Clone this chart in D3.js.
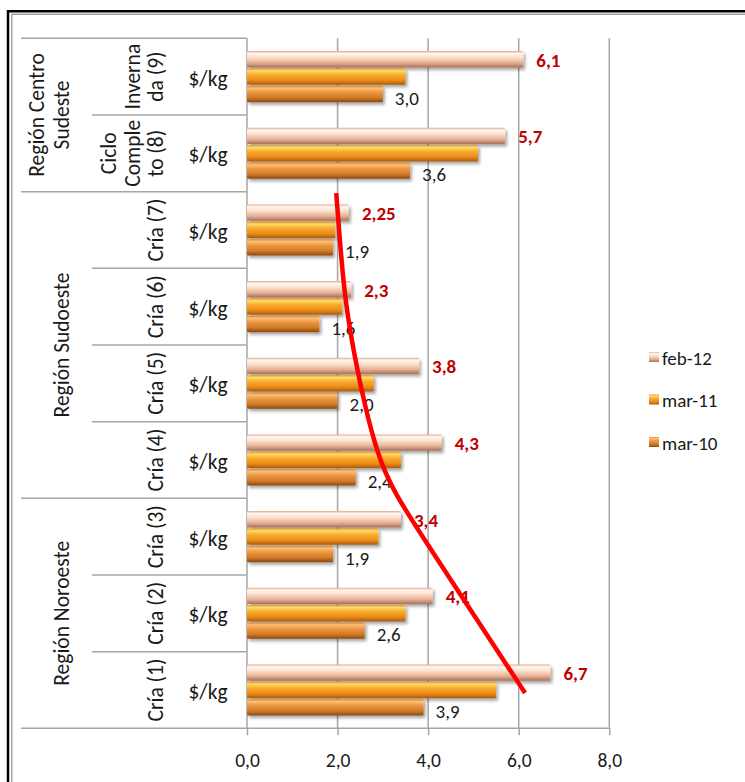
<!DOCTYPE html>
<html>
<head>
<meta charset="utf-8">
<script src="https://cdn.jsdelivr.net/npm/d3@7"></script>
<style>
  body { margin: 0; background: #fff; }
  svg { display: block; }
  text { font-family: Carlito, Lato, "Noto Sans", sans-serif; fill: #1a1a1a; }
</style>
</head>
<body>
<svg id="chart" width="745" height="782"></svg>
<script>
// Row labels, top to bottom ("\n" splits the lines of a wrapped label)
const rowLabels = ["Inverna\nda (9)", "Ciclo\nComple\nto (8)", "Cría (7)", "Cría (6)", "Cría (5)", "Cría (4)", "Cría (3)", "Cría (2)", "Cría (1)"];
const unitLabel = "$/kg";
// Regions grouping the rows, with how many rows each one spans
const regionNames = ["Región Centro\nSudeste", "Región Sudoeste", "Región Noroeste"];
const regionSpans = [2, 4, 3];

// Price series ($/kg), same order as the rows
const seriesNames = ["feb-12", "mar-11", "mar-10"];
const feb12 = [6.1, 5.7, 2.25, 2.3, 3.8, 4.3, 3.4, 4.1, 6.7];
const mar11 = [3.5, 5.1, 1.95, 2.1, 2.8, 3.4, 2.9, 3.5, 5.5];
const mar10 = [3.0, 3.6, 1.9, 1.6, 2.0, 2.4, 1.9, 2.6, 3.9];

const xTicks = [0, 2, 4, 6, 8];

// Hand-drawn trend stroke: price value and row position (in rows from the top)
const trendValue = [1.97, 2.05, 2.16, 2.39, 2.61, 2.87, 3.20, 4.11, 4.84, 5.52, 6.14];
const trendRow   = [2.02, 2.63, 3.41, 4.20, 4.81, 5.40, 5.89, 6.71, 7.37, 7.98, 8.54];

const svg = d3.select("#chart");
const W = 745, H = 782;

// layout
const plotLeft = 247, plotRight = 609.3, plotTop = 38.3, plotBottom = 728.3;
const tableLeft = 21, subLeft = 92;
const tableFont = "21.5px", valueFont = "19px";

const x = d3.scaleLinear().domain([0, 8]).range([plotLeft, plotRight]);
const rows = d3.range(rowLabels.length);
const y = d3.scaleBand().domain(rows).range([plotTop, plotBottom]).padding(0);
const bw = y.bandwidth();
const ySub = d3.scaleBand().domain(seriesNames).range([bw / 6, bw * 5 / 6]).paddingInner(0.06);
const yRow = d3.scaleLinear().domain([0, rowLabels.length]).range([plotTop, plotBottom]);

const seriesValues = { "feb-12": feb12, "mar-11": mar11, "mar-10": mar10 };

// gradients giving the bevelled bar look
const defs = svg.append("defs");
const gradStops = {
  "feb-12": [["0%", "#e2aa8c"], ["14%", "#fff6ee"], ["38%", "#fbe2d0"], ["72%", "#e6b092"], ["100%", "#a9705a"]],
  "mar-11": [["0%", "#e8921f"], ["14%", "#ffdc6a"], ["38%", "#f9ad30"], ["72%", "#ec8c16"], ["100%", "#a85a10"]],
  "mar-10": [["0%", "#d58236"], ["14%", "#ffbf72"], ["38%", "#ec9845"], ["72%", "#d27a26"], ["100%", "#8a4814"]]
};
seriesNames.forEach((s, i) => {
  const g = defs.append("linearGradient").attr("id", "g" + i)
    .attr("x1", 0).attr("y1", 0).attr("x2", 0).attr("y2", 1);
  gradStops[s].forEach(([o, c]) => g.append("stop").attr("offset", o).attr("stop-color", c));
});
const f = defs.append("filter").attr("id", "shadow").attr("x", "-5%").attr("y", "-30%").attr("width", "115%").attr("height", "180%");
f.append("feDropShadow").attr("dx", 2).attr("dy", 2.5).attr("stdDeviation", 1.5)
  .attr("flood-color", "#000").attr("flood-opacity", 0.35);

// outer frame
svg.append("line").attr("x1", 8).attr("x2", 8).attr("y1", 10).attr("y2", H).attr("stroke", "#000").attr("stroke-width", 2.5);
svg.append("line").attr("x1", 7).attr("x2", W).attr("y1", 11.3).attr("y2", 11.3).attr("stroke", "#000").attr("stroke-width", 2.5);
svg.append("line").attr("x1", 11.8).attr("x2", 11.8).attr("y1", 14.3).attr("y2", H).attr("stroke", "#a0a0a0").attr("stroke-width", 1.4);
svg.append("line").attr("x1", 11.2).attr("x2", W).attr("y1", 14.3).attr("y2", 14.3).attr("stroke", "#a0a0a0").attr("stroke-width", 1.4);

const lineColor = "#a6a6a6";

// vertical gridlines
svg.append("g").selectAll("line").data(xTicks.filter(t => t > 0)).join("line")
  .attr("x1", d => x(d)).attr("x2", d => x(d))
  .attr("y1", plotTop).attr("y2", plotBottom)
  .attr("stroke", lineColor).attr("stroke-width", 1.5);

// table rules: region boundaries span the whole table, row boundaries only the inner columns
const regionStarts = [];
let acc = 0;
regionSpans.forEach(n => { regionStarts.push(acc); acc += n; });
const tableRules = svg.append("g");
rows.forEach(r => {
  const isRegionStart = regionStarts.includes(r);
  tableRules.append("line")
    .attr("x1", isRegionStart ? tableLeft : subLeft).attr("x2", plotLeft)
    .attr("y1", y(r)).attr("y2", y(r))
    .attr("stroke", lineColor).attr("stroke-width", 1.5);
});

// x axis
const xAxis = svg.append("g").attr("transform", `translate(0,${plotBottom})`)
  .call(d3.axisBottom(x).tickValues(xTicks).tickSize(7).tickFormat(d => d3.format(".1f")(d).replace(".", ",")));
xAxis.select(".domain").remove();
xAxis.selectAll(".tick line").attr("stroke", lineColor).attr("stroke-width", 1.5);
xAxis.selectAll(".tick text").attr("dy", null).attr("y", 39).style("font-size", "19.5px").attr("fill", "#1a1a1a");
svg.append("line").attr("x1", tableLeft).attr("x2", plotRight).attr("y1", plotBottom).attr("y2", plotBottom)
  .attr("stroke", lineColor).attr("stroke-width", 1.5);
// value axis line (left edge of plot)
svg.append("line").attr("x1", plotLeft).attr("x2", plotLeft).attr("y1", plotTop).attr("y2", plotBottom)
  .attr("stroke", lineColor).attr("stroke-width", 1.5);

// bars
const barG = svg.append("g");
seriesNames.forEach((s, i) => {
  barG.append("g").selectAll("rect").data(seriesValues[s]).join("rect")
    .attr("x", x(0))
    .attr("y", (d, r) => y(r) + ySub(s))
    .attr("width", d => x(d) - x(0))
    .attr("height", ySub.bandwidth())
    .attr("rx", 1.5)
    .attr("fill", `url(#g${i})`)
    .attr("filter", "url(#shadow)");
});

// value labels: feb-12 in bold red, mar-10 in black
const fmtComma = v => String(v).replace(".", ",");
svg.append("g").selectAll("text").data(feb12).join("text")
  .attr("x", d => x(d) + 13)
  .attr("y", (d, r) => y(r) + ySub("feb-12") + ySub.bandwidth() / 2 + 1)
  .attr("dominant-baseline", "central")
  .style("font-size", valueFont).style("font-weight", "bold").style("fill", "#c00000")
  .text(fmtComma);
svg.append("g").selectAll("text").data(mar10).join("text")
  .attr("x", d => x(d) + 12)
  .attr("y", (d, r) => y(r) + ySub("mar-10") + ySub.bandwidth() / 2 + 4)
  .attr("dominant-baseline", "central")
  .style("font-size", valueFont)
  .text(d => d3.format(".1f")(d).replace(".", ","));

// unit column
svg.append("g").selectAll("text").data(rows).join("text")
  .attr("x", 208).attr("y", r => y(r) + bw / 2 + 2)
  .attr("text-anchor", "middle").attr("dominant-baseline", "central")
  .style("font-size", tableFont)
  .text(unitLabel);

// rotated row labels (last line sits next to the unit column)
rows.forEach(r => {
  const lines = rowLabels[r].split("\n");
  lines.forEach((ln, i) => {
    const cx = 156 - (lines.length - 1 - i) * 23.5;
    svg.append("text")
      .attr("transform", `translate(${cx},${y(r) + bw / 2}) rotate(-90)`)
      .attr("text-anchor", "middle").attr("dominant-baseline", "central")
      .style("font-size", tableFont)
      .text(ln);
  });
});

// rotated region labels
regionNames.forEach((name, k) => {
  const r0 = regionStarts[k], r1 = r0 + regionSpans[k];
  const cy = (y(r0) + (r1 < rows.length ? y(r1) : plotBottom)) / 2;
  const lines = name.split("\n");
  lines.forEach((ln, i) => {
    const cx = 62 - (lines.length - 1 - i) * 25;
    svg.append("text")
      .attr("transform", `translate(${cx},${cy}) rotate(-90)`)
      .attr("text-anchor", "middle").attr("dominant-baseline", "central")
      .style("font-size", tableFont)
      .text(ln);
  });
});

// trend stroke
const trend = trendValue.map((v, i) => [v, trendRow[i]]);
svg.append("path").datum(trend)
  .attr("d", d3.line().x(d => x(d[0])).y(d => yRow(d[1])).curve(d3.curveBasis))
  .attr("fill", "none").attr("stroke", "#ff0000").attr("stroke-width", 4.5);

// legend
const legendY = d3.scalePoint().domain(seriesNames).range([357, 442]);
const leg = svg.append("g");
seriesNames.forEach((s, i) => {
  leg.append("rect").attr("x", 649).attr("y", legendY(s) - 5).attr("width", 10).attr("height", 10)
    .attr("fill", `url(#g${i})`);
  leg.append("text").attr("x", 662).attr("y", legendY(s) + 1)
    .attr("dominant-baseline", "central").style("font-size", "19px")
    .text(s);
});
</script>
</body>
</html>
